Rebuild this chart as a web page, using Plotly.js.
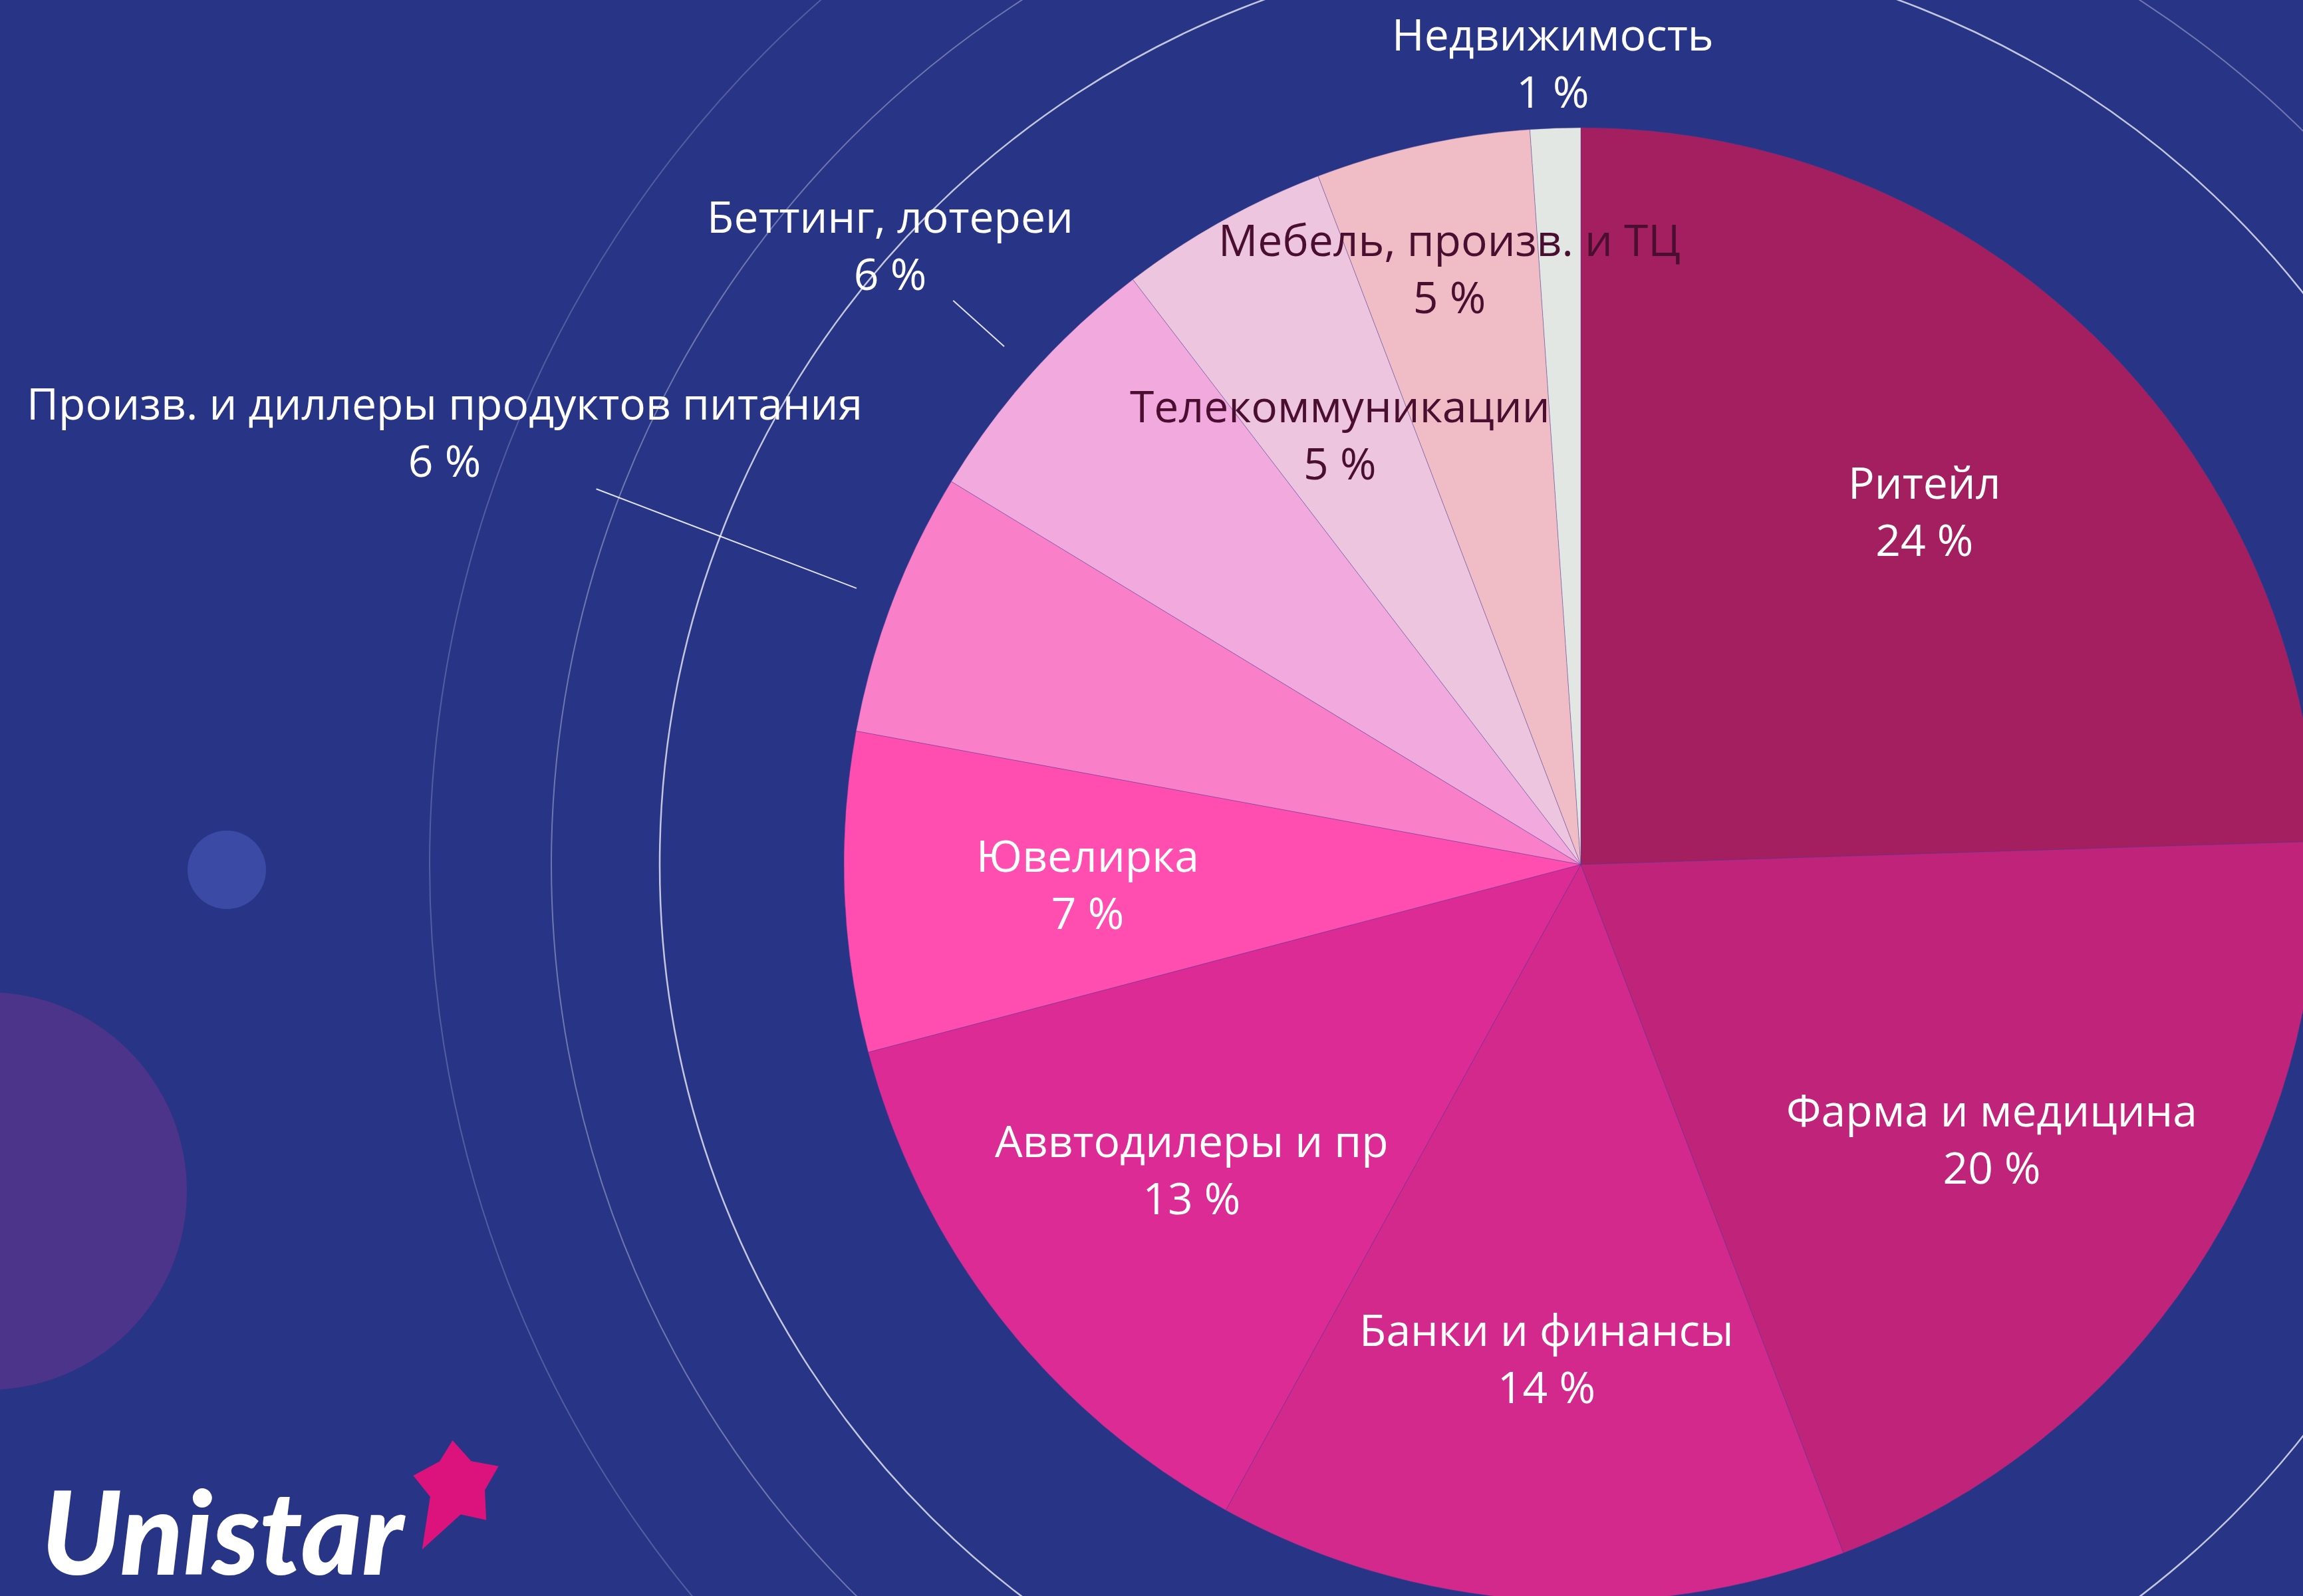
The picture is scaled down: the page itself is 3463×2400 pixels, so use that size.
<!DOCTYPE html>
<html>
<head>
<meta charset="utf-8">
<script src="https://cdn.plot.ly/plotly-3.0.1.min.js"></script>
<style>
html, body { margin: 0; padding: 0; background: #283587; overflow: hidden; width: 3463px; height: 2400px; }
#chart { position: absolute; left: 0; top: 0; }
</style>
</head>
<body>
<div id="chart"></div>
<script>
// ---- data ----
const categories = [
  "Ритейл",
  "Фарма и медицина",
  "Банки и финансы",
  "Аввтодилеры и пр",
  "Ювелирка",
  "Произв. и диллеры продуктов питания",
  "Беттинг, лотереи",
  "Телекоммуникации",
  "Мебель, произв. и ТЦ",
  "Недвижимость"
];
const values = [24.5, 19.7, 13.8, 12.9, 7.0, 5.8, 5.9, 4.6, 4.7, 1.1];
const pctLabels = [24, 20, 14, 13, 7, 6, 6, 5, 5, 1];

// ---- styles ----
const sliceColors = ["#A31F60", "#C0237A", "#D3298C", "#DD2B95", "#FF4DB0",
                     "#F97FC9", "#F2A9DE", "#EEC5DF", "#F0BCC5", "#E2E7E4"];
const labelColors = ["#FFFFFF", "#FFFFFF", "#FFFFFF", "#FFFFFF", "#FFFFFF",
                     "#FFFFFF", "#FFFFFF", "#4A0E30", "#4A0E30", "#FFFFFF"];
// label distance from centre, as fraction of the pie radius
const labelRadius = [0.67, 0.67, 0.67, 0.67, 0.67, 1.65, 1.26, 0.67, 0.83, 1.09];
// leader lines: [start, end] as fractions of radius (null = none)
const leaderLines = [null, null, null, null, null, [1.052, 1.43], [1.052, 1.145], null, null, null];

// ---- canvas geometry (plot larger than the window so the pie is clipped) ----
const W = 4754, H = 2600;
const R = 1108;
const dY = (H - 2 * R) / (2 * H);
const cx = W / 2, cy = H / 2;
const px2x = p => p / W;
const py2y = p => 1 - p / H;

const total = values.reduce((a, b) => a + b, 0);
const annotations = [];
const shapes = [];

// background decoration rings (concentric with the pie)
const rings = [[1385, "rgba(255,255,255,0.72)", 2.5], [1548, "rgba(255,255,255,0.33)", 2], [1731, "rgba(255,255,255,0.2)", 2]];
rings.forEach(([r, col, w]) => {
  shapes.push({type: "circle", xref: "paper", yref: "paper", layer: "below",
    x0: px2x(cx - r), x1: px2x(cx + r), y0: py2y(cy + r), y1: py2y(cy - r),
    line: {color: col, width: w}, fillcolor: "rgba(0,0,0,0)"});
});
// decorative dots
shapes.push({type: "circle", xref: "paper", yref: "paper", layer: "below",
  x0: px2x(341 - 59), x1: px2x(341 + 59), y0: py2y(1308 + 59), y1: py2y(1308 - 59),
  line: {width: 0}, fillcolor: "#3B4AA4"});
shapes.push({type: "circle", xref: "paper", yref: "paper", layer: "below",
  x0: px2x(-18 - 299), x1: px2x(-18 + 299), y0: py2y(1791 + 299), y1: py2y(1791 - 299),
  line: {width: 0}, fillcolor: "#4B3489"});

// labels placed on each slice's bisector
let cum = 0;
values.forEach((v, i) => {
  const mid = (cum + v / 2) / total * 2 * Math.PI;
  cum += v;
  const r = labelRadius[i] * R;
  const lx = cx + r * Math.sin(mid), ly = cy - r * Math.cos(mid);
  annotations.push({
    xref: "paper", yref: "paper", x: px2x(lx), y: py2y(ly),
    xanchor: "center", yanchor: "middle", showarrow: false,
    text: categories[i] + "<br>" + pctLabels[i] + " %",
    font: {family: "Open Sans, Roboto, sans-serif", size: 66, weight: 500, color: labelColors[i]}
  });
  if (leaderLines[i]) {
    const [a, b] = leaderLines[i];
    shapes.push({type: "line", xref: "paper", yref: "paper", layer: "above",
      x0: px2x(cx + a * R * Math.sin(mid)), y0: py2y(cy - a * R * Math.cos(mid)),
      x1: px2x(cx + b * R * Math.sin(mid)), y1: py2y(cy - b * R * Math.cos(mid)),
      line: {color: "rgba(255,255,255,0.85)", width: 2}});
  }
});

// logo
const starPts = [[681,2171],[707,2200],[745,2207],[726,2240],[728,2282],[692,2274],[639,2322],[650,2250],[626,2220],[663,2200]];
shapes.push({type: "path", xref: "paper", yref: "paper", layer: "above",
  path: "M " + starPts.map(p => px2x(p[0]) + "," + py2y(p[1])).join(" L ") + " Z",
  fillcolor: "#DD137D", line: {color: "#DD137D", width: 6}});
annotations.push({xref: "paper", yref: "paper", x: px2x(60), y: py2y(2300),
  xanchor: "left", yanchor: "middle", showarrow: false, text: "Unistar",
  font: {family: "Lato, Open Sans, sans-serif", size: 174, color: "#FFFFFF", weight: 900, style: "italic"}});

const trace = {
  type: "pie",
  labels: categories,
  values: values,
  sort: false,
  direction: "clockwise",
  rotation: 0,
  textinfo: "none",
  hoverinfo: "skip",
  marker: {colors: sliceColors, line: {color: "rgba(80,60,150,0.4)", width: 1}},
  domain: {x: [0, 1], y: [dY, 1 - dY]},
  showlegend: false
};

const layout = {
  width: W, height: H,
  margin: {l: 0, r: 0, t: 0, b: 0, pad: 0},
  paper_bgcolor: "#283587",
  plot_bgcolor: "#283587",
  showlegend: false,
  shapes: shapes,
  annotations: annotations
};

Plotly.newPlot("chart", [trace], layout, {displayModeBar: false, staticPlot: true});
</script>
</body>
</html>
